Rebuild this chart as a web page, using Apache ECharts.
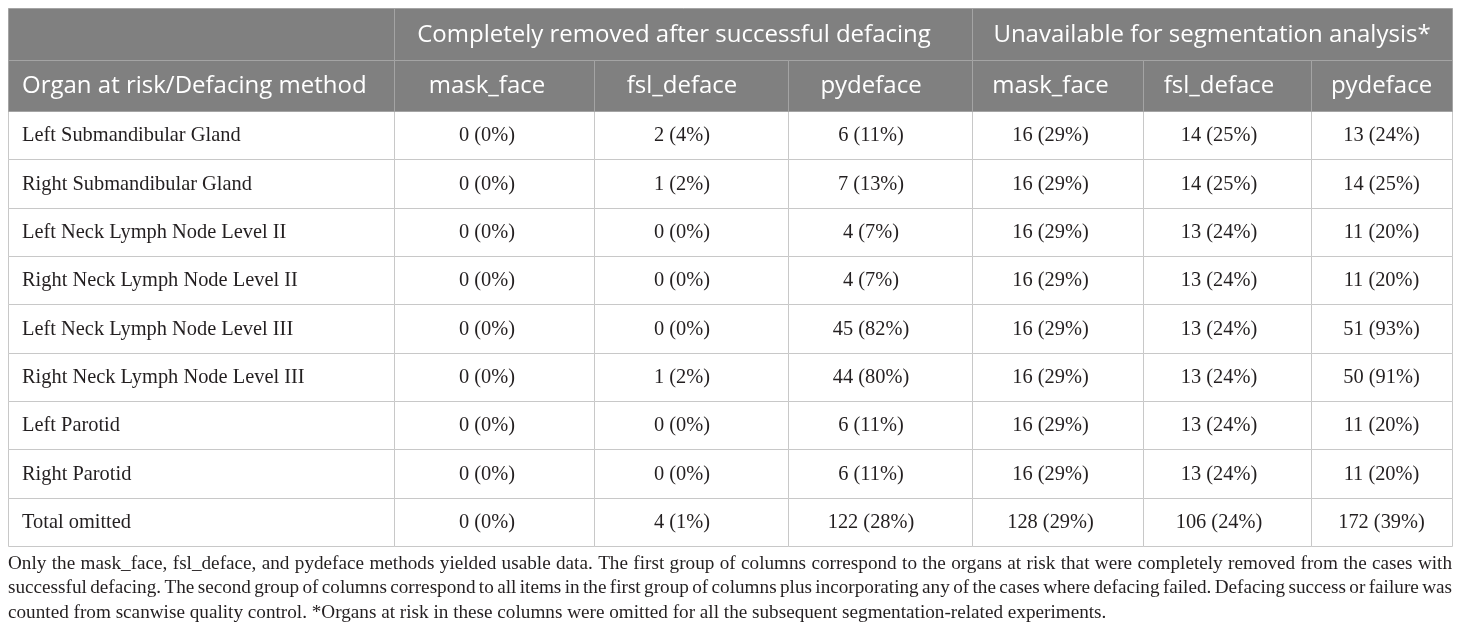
<!DOCTYPE html>
<html>
<head>
<meta charset="utf-8">
<title>Organs at risk omitted by defacing method</title>
<style>
  html, body { margin: 0; padding: 0; background: #fff; }
  #main { width: 1460px; height: 633px; }
</style>
<script src="https://cdn.jsdelivr.net/npm/echarts@6/dist/echarts.min.js"></script>
</head>
<body>
<div id="main"></div>
<script>
// table content
const groups = ["Completely removed after successful defacing", "Unavailable for segmentation analysis*"];
const methods = ["mask_face", "fsl_deface", "pydeface"];
const stubHeader = "Organ at risk/Defacing method";
const organs = [
  "Left Submandibular Gland",
  "Right Submandibular Gland",
  "Left Neck Lymph Node Level II",
  "Right Neck Lymph Node Level II",
  "Left Neck Lymph Node Level III",
  "Right Neck Lymph Node Level III",
  "Left Parotid",
  "Right Parotid",
  "Total omitted"
];

// completely removed after successful defacing: counts and percentages
const removedMask = [0, 0, 0, 0, 0, 0, 0, 0, 0];
const removedMaskPct = [0, 0, 0, 0, 0, 0, 0, 0, 0];
const removedFsl = [2, 1, 0, 0, 0, 1, 0, 0, 4];
const removedFslPct = [4, 2, 0, 0, 0, 2, 0, 0, 1];
const removedPy = [6, 7, 4, 4, 45, 44, 6, 6, 122];
const removedPyPct = [11, 13, 7, 7, 82, 80, 11, 11, 28];

// unavailable for segmentation analysis: counts and percentages
const unavailMask = [16, 16, 16, 16, 16, 16, 16, 16, 128];
const unavailMaskPct = [29, 29, 29, 29, 29, 29, 29, 29, 29];
const unavailFsl = [14, 14, 13, 13, 13, 13, 13, 13, 106];
const unavailFslPct = [25, 25, 24, 24, 24, 24, 24, 24, 24];
const unavailPy = [13, 14, 11, 11, 51, 50, 11, 11, 172];
const unavailPyPct = [24, 25, 20, 20, 93, 91, 20, 20, 39];

const captionLines = [
  "Only the mask_face, fsl_deface, and pydeface methods yielded usable data. The first group of columns correspond to the organs at risk that were completely removed from the cases with",
  "successful defacing. The second group of columns correspond to all items in the first group of columns plus incorporating any of the cases where defacing failed. Defacing success or failure was",
  "counted from scanwise quality control. *Organs at risk in these columns were omitted for all the subsequent segmentation-related experiments."
];

// layout (table units = px inside the grid)
const tableW = 1444, tableH = 538;
const colEdges = [0, 386, 586, 780, 964, 1135, 1303, 1444];
const colShift = [0, -7, -9, -9, -7, -8, 0];
const rowEdges = [0, 52, 103];
for (let i = 1; i <= organs.length; i++) rowEdges.push(103 + i * (tableH - 103) / organs.length);

const headFont = { fontSize: 24, fontFamily: "Open Sans" };
const bodyFont = { fontSize: 20.4, fontFamily: "Liberation Serif" };
const capSize = 19.2, capFamily = "Liberation Serif";

// build cells: body first, header last so its fill sits on top
const columns = [
  [removedMask, removedMaskPct], [removedFsl, removedFslPct], [removedPy, removedPyPct],
  [unavailMask, unavailMaskPct], [unavailFsl, unavailFslPct], [unavailPy, unavailPyPct]
];
const cells = [];
organs.forEach(function (name, i) {
  cells.push({ c0: 0, c1: 1, r: i + 2, text: name, align: "left", head: false });
  columns.forEach(function (col, j) {
    cells.push({ c0: j + 1, c1: j + 2, r: i + 2, text: col[0][i] + " (" + col[1][i] + "%)", align: "center", head: false });
  });
});
cells.push({ c0: 0, c1: 1, r: 0, text: "", align: "left", head: true });
cells.push({ c0: 1, c1: 4, r: 0, text: groups[0], align: "center", head: true });
cells.push({ c0: 4, c1: 7, r: 0, text: groups[1], align: "center", head: true });
cells.push({ c0: 0, c1: 1, r: 1, text: stubHeader, align: "left", head: true });
[0, 1].forEach(function (g) {
  methods.forEach(function (m, k) {
    const c = g * 3 + k + 1;
    cells.push({ c0: c, c1: c + 1, r: 1, text: m, align: "center", head: true });
  });
});

function renderCell(params, api) {
  const cell = cells[params.dataIndex];
  const p0 = api.coord([colEdges[cell.c0], rowEdges[cell.r]]);
  const p1 = api.coord([colEdges[cell.c1], rowEdges[cell.r + 1]]);
  const x0 = Math.round(p0[0]), y0 = Math.round(p0[1]);
  const w = Math.round(p1[0]) - x0, h = Math.round(p1[1]) - y0;
  const font = cell.head ? headFont : bodyFont;
  const tx = cell.align === "left" ? x0 + 14 : x0 + w / 2 + colShift[cell.c1 - 1];
  return {
    type: "group",
    children: [
      {
        type: "rect",
        shape: { x: x0 + 0.5, y: y0 + 0.5, width: w, height: h },
        style: {
          fill: cell.head ? "#808080" : "#ffffff",
          stroke: cell.head ? "#a4a4a4" : "#c8c8c8",
          lineWidth: 1
        }
      },
      {
        type: "text",
        style: {
          text: cell.text,
          x: tx,
          y: y0 + h / 2 + 1,
          align: cell.align,
          verticalAlign: "middle",
          fill: cell.head ? "#ffffff" : "#231f20",
          fontSize: font.fontSize,
          fontFamily: font.fontFamily
        }
      }
    ]
  };
}

// justified caption below the table
function captionElements() {
  const ctx = document.createElement("canvas").getContext("2d");
  ctx.font = capSize + 'px "' + capFamily + '"';
  const space = ctx.measureText(" ").width;
  const els = [];
  captionLines.forEach(function (line, i) {
    const words = line.split(" ");
    const widths = words.map(function (w) { return ctx.measureText(w).width; });
    const total = widths.reduce(function (a, b) { return a + b; }, 0);
    const last = i === captionLines.length - 1;
    const gap = last ? space : (tableW - total) / (words.length - 1);
    let x = 8;
    words.forEach(function (w, j) {
      els.push({
        type: "text",
        x: x,
        y: 564 + i * 24.3,
        silent: true,
        style: { text: w, fill: "#231f20", fontSize: capSize, fontFamily: capFamily, verticalAlign: "middle" }
      });
      x += widths[j] + gap;
    });
  });
  return els;
}

const myChart = echarts.init(document.getElementById("main"));
const option = {
  animation: false,
  grid: { left: 8, top: 8, width: tableW, height: tableH },
  xAxis: { type: "value", min: 0, max: tableW, show: false },
  yAxis: { type: "value", min: 0, max: tableH, inverse: true, show: false },
  series: [
    {
      type: "custom",
      clip: false,
      silent: true,
      renderItem: renderCell,
      data: cells.map(function (c) { return [colEdges[c.c0], rowEdges[c.r]]; })
    }
  ],
  graphic: { elements: captionElements() }
};
myChart.setOption(option);

window.addEventListener("resize", function () {
  myChart.resize();
});
</script>
</body>
</html>
